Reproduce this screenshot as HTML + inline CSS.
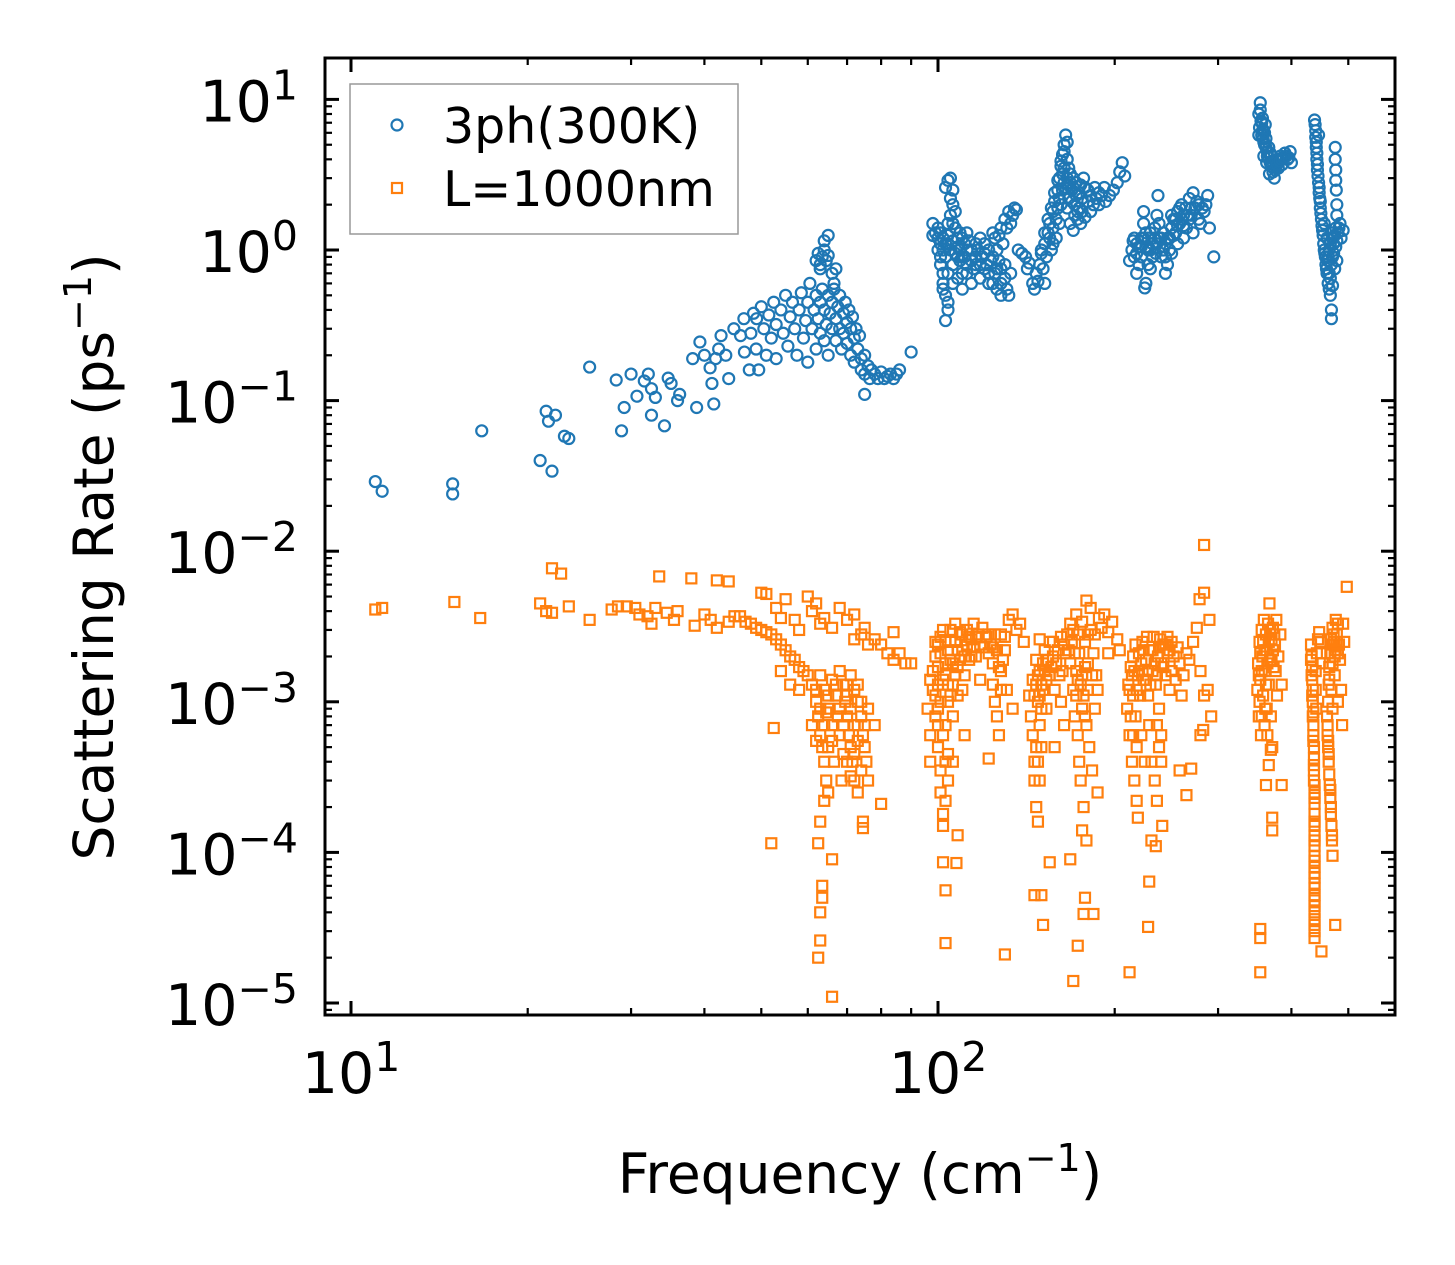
<!DOCTYPE html>
<html><head><meta charset="utf-8"><style>
html,body{margin:0;padding:0;background:#fff;}
svg{display:block;font-family:"DejaVu Sans","Liberation Sans",sans-serif;}
</style></head><body>
<svg id="chart" width="1455" height="1265" viewBox="0 0 1455 1265" xmlns="http://www.w3.org/2000/svg">
<rect x="0" y="0" width="1455" height="1265" fill="#fff"/>
<g id="marks"></g>
<g id="axes"></g>
<rect x="325" y="58" width="1070" height="957" fill="none" stroke="#000" stroke-width="3"/>
<g>
<rect x="350" y="84" width="388" height="150" fill="#fff" fill-opacity="0.8" stroke="#999" stroke-width="1.5"/>
<circle cx="397" cy="125" r="5.5" fill="none" stroke="#1f77b4" stroke-width="2.2"/>
<text x="443" y="143" font-size="49" fill="#000">3ph(300K)</text>
<rect x="392" y="183" width="10" height="10" fill="none" stroke="#ff7f0e" stroke-width="2.2"/>
<text x="443" y="206" font-size="49" fill="#000">L=1000nm</text>
</g>
<text x="860" y="1193" font-size="55" text-anchor="middle" fill="#000">Frequency (cm<tspan font-size="38" dy="-22">−1</tspan><tspan dy="22">)</tspan></text>
<text transform="translate(113,557) rotate(-90)" font-size="55" text-anchor="middle" fill="#000">Scattering Rate (ps<tspan font-size="38" dy="-22">−1</tspan><tspan dy="22">)</tspan></text>
</svg>
<script>
const xMajorTicks = [10, 100];
const xMinorTicks = [20,30,40,50,60,70,80,90,200,300,400,500];
const yMajorExps = [1,0,-1,-2,-3,-4,-5];
const xTickLabelExps = ["1","2"];
const yMinorMult = [2,3,4,5,6,7,8,9];

const blue3ph = [
[11.0,0.029],[11.3,0.025],[14.9,0.028],[14.9,0.024],[16.7,0.063],[21.0,0.040],[21.5,0.085],[21.7,0.073],[22.0,0.034],[22.3,0.080],[23.1,0.058],[23.5,0.056],[25.5,0.167],[28.3,0.137],[28.9,0.063],[29.2,0.090],[30.0,0.150],[30.7,0.107],[31.6,0.135],[32.1,0.150],[32.5,0.120],[32.5,0.080],[33.0,0.105],[34.2,0.068],[34.7,0.141],[35.1,0.130],[36.0,0.100],[36.3,0.110],[38.2,0.19],[38.8,0.09],[39.3,0.245],[40.0,0.20],[40.9,0.165],[41.2,0.13],[41.5,0.095],[41.8,0.19],[42.3,0.22],[42.7,0.27],[43.5,0.20],[44.0,0.14],[44.9,0.30],[46.1,0.27],[46.8,0.21],[46.7,0.35],[47.7,0.16],[49.1,0.35],[49.5,0.16],
[48,0.28],[48.5,0.38],[49,0.22],[50,0.42],[50.5,0.3],[51,0.2],[51.5,0.37],[52,0.26],[52.5,0.45],[53,0.32],[53,0.19],[54,0.4],[54.5,0.28],[55,0.5],[55.5,0.23],[56,0.36],[56.5,0.45],[57,0.3],[57.5,0.2],[58,0.4],[58.5,0.52],[59,0.26],[59.5,0.34],[60,0.45],[60,0.18],[60.5,0.6],[61,0.3],[61.5,0.4],[62,0.22],[62,0.5],
[62.5,0.35],[63,0.45],[63,0.28],[63.5,0.55],[64,0.4],[64,0.25],[64.5,0.32],[65,0.5],[65,0.2],[65.5,0.38],[66,0.3],[66,0.45],[66.5,0.55],[67,0.35],[67,0.25],[67.5,0.42],[68,0.3],[68,0.5],[68.5,0.22],[69,0.38],[69,0.28],[69.5,0.45],[70,0.33],[70,0.24],[70.5,0.4],[71,0.3],[71,0.2],[71.5,0.36],[72,0.26],[72,0.18],[72.5,0.3],[73,0.22],[73.5,0.27],[74,0.19],[74,0.16],[75,0.2],[75,0.15],[76,0.17],[76.5,0.14],[77,0.16],[78,0.15],[79,0.14],[80,0.155],[81,0.14],[82,0.145],[83,0.15],[84,0.14],[85,0.15],[86,0.16],[75,0.11],[90,0.21],
[62,0.85],[62.5,0.95],[63,0.8],[63.5,0.9],[64,1.0],[64.5,0.85],[65,0.92],[64,1.15],[65,1.25],[63,0.75],[66,0.7],[66.5,0.6],[67,0.75],
[99,1.3],[98,1.5],[100,1.0],[101,0.8],[102,0.6],[103,0.5],[104,0.4],[103,0.34],[100,1.2],[104,2.9],[105,3.0],[106,2.5],[106,2.0],[105,1.7],[107,1.4],[108,1.2],[109,1.0],[110,0.9],[112,1.0],[114,0.85],[116,0.9],[118,0.8],[120,0.75],[122,0.7],[124,0.6],[126,0.55],[128,0.5],[122,1.0],[125,1.2],[128,1.4],[130,1.6],[132,1.8],[134,1.7],[133,0.7],[130,0.8],[127,0.85],[102,0.7],[104,1.1],[106,0.8],[108,0.65],[110,0.55],[112,0.7],[114,0.6],[107,1.8],[104,1.5],[109,1.3],[111,1.1],[116,1.1],[118,1.2],[120,0.95],[124,0.9],[126,1.0],[128,0.75],[130,0.65],[131,0.55],[132,0.5],[98,1.25],[101,1.1],[103,0.9],[102,0.55],[104,0.45],[137,1.0],[139,0.95],[141,0.9],[143,0.82],[142,0.75],
[100,1.4],[101,1.3],[102,1.2],[103,1.1],[104,1.25],[105,1.0],[106,1.15],[107,0.95],[108,1.05],[109,0.85],[110,1.2],[111,0.9],[112,0.8],[113,1.15],[114,1.0],[115,0.75],[116,0.8],[117,1.0],[118,0.65],[119,0.9],[120,1.1],[121,0.8],[122,0.6],[123,0.85],[124,1.3],[125,0.7],[126,0.75],[127,1.25],[128,0.6],[129,1.1],[131,1.4],[133,1.5],[135,1.9],[136,1.85],[105,2.2],[106,1.5],[103,2.6],[101,0.9],[102,1.0],[104,0.7],[106,0.6],[108,0.9],[110,0.7],[112,1.3],
[145,0.6],[147,0.7],[149,0.8],[150,0.95],[152,1.1],[154,1.3],[155,1.5],[157,1.8],[158,2.1],[160,2.5],[161,3.0],[162,3.6],[163,4.3],[164,5.0],[165,5.8],[166,5.2],[163,3.2],[165,2.6],[167,2.2],[169,2.5],[170,3.0],[172,2.3],[174,1.9],[176,2.2],[178,2.6],[180,2.1],[182,1.8],[184,2.0],[186,2.2],[188,2.0],[190,2.3],[193,2.1],[196,2.3],[199,2.5],[202,2.8],[204,3.3],[206,3.8],[208,3.1],[168,1.5],[171,1.7],[166,1.9],[160,1.9],[157,1.4],[153,0.9],[151,0.75],[148,0.62],[146,0.55],[162,2.0],[164,2.8],[167,3.5],[168,2.8],[175,1.5],[178,1.65],[170,1.35],[173,1.8],[177,3.0],[175,2.7],[152,0.6],[156,1.0],[159,1.2],[161,1.5],
[150,1.0],[152,1.3],[154,1.6],[156,1.9],[158,2.4],[160,2.9],[162,3.9],[164,4.5],[166,4.0],[168,3.2],[170,2.6],[172,2.8],[174,2.4],[176,1.8],[180,2.5],[182,2.3],[185,2.6],[188,2.4],[192,2.6],[164,3.5],[166,3.0],[167,2.7],[169,2.1],[171,2.0],[173,1.6],[155,1.2],[157,1.1],[159,1.6],[161,2.2],[163,2.5],
[212,0.85],[214,1.0],[216,0.9],[218,1.1],[220,0.8],[222,1.2],[224,1.5],[224,1.8],[226,1.3],[226,0.6],[225,0.56],[228,1.0],[230,0.75],[232,1.1],[234,1.4],[236,1.7],[237,2.3],[238,1.2],[240,0.9],[242,1.0],[244,0.7],[246,0.8],[248,1.2],[250,1.4],[252,1.6],[254,1.3],[256,1.8],[258,1.5],[260,2.0],[262,1.7],[265,1.4],[268,2.2],[270,1.9],[272,2.4],[276,2.1],[280,1.5],[284,1.8],[288,2.3],[290,1.4],[295,0.9],[218,0.7],[222,0.9],[230,1.3],[244,1.1],[250,0.95],[256,1.1],[262,1.2],[272,1.3],[278,1.6],[215,1.15],[228,0.8],[235,0.95],
[216,1.2],[218,0.95],[220,1.05],[222,1.05],[224,1.2],[226,1.05],[228,1.2],[230,1.0],[232,0.9],[234,1.2],[236,1.1],[238,1.5],[240,1.2],[242,1.3],[244,0.9],[246,1.2],[248,1.0],[250,1.7],[252,1.25],[254,1.6],[256,1.45],[258,1.9],[260,1.6],[262,1.45],[264,1.9],[266,1.7],[268,1.6],[270,1.7],[274,1.9],[278,2.0],[282,1.9],[286,2.0],
[352,8],[354,9.5],[353,6.5],[355,7.2],[356,5.8],[358,6.3],[360,5.0],[362,5.5],[364,4.5],[366,4.8],[368,3.8],[370,4.2],[372,3.3],[374,3.0],[376,3.6],[378,4.0],[380,3.5],[383,4.2],[386,3.7],[390,4.4],[394,4.0],[398,4.5],[400,3.8],[357,7.5],[359,4.2],[363,3.8],[367,3.2],[352,5.8],[361,6.8],
[354,8.5],[356,7.0],[357,6.2],[358,5.5],[359,5.2],[360,6.0],[362,4.8],[364,4.2],[366,4.1],[368,4.4],[370,3.6],[372,3.8],[375,3.4],[378,3.7],[382,3.9],[385,4.0],[388,4.1],[392,4.2],[396,4.1],
[438,7.3],[440,6.2],[441,5.2],[442,4.4],[443,3.7],[444,3.1],[446,2.6],[447,2.2],[448,1.9],[450,1.6],[452,1.35],[454,1.1],[456,0.95],[458,0.8],[460,0.7],[462,0.6],[464,0.55],[466,0.5],[468,0.4],[468,0.35],[460,1.2],[464,1.0],[468,1.3],[472,1.1],[476,1.4],[480,1.3],[484,1.5],[470,0.9],[474,0.75],[478,0.85],[475,4.8],[475,4.0],[476,3.4],[476,2.9],[477,2.5],[478,2.0],[478,1.7],[466,0.65],[470,0.58],[455,1.5],[461,0.85],[490,1.35],[486,1.2],[445,5.8],
[439,6.8],[440,5.6],[441,4.8],[442,4.0],[443,3.4],[445,2.8],[446,2.4],[448,2.1],[449,1.75],[451,1.45],[453,1.25],[455,1.0],[457,0.9],[459,0.75],[462,0.9],[466,1.1],[470,1.2],[474,1.25],[478,1.15],[482,1.4],[468,0.8],[472,0.95],[476,1.05],[464,0.7]
];

const orangeL1000 = [
[11,0.0041],[11.3,0.0042],[15,0.0046],[16.6,0.0036],[21,0.0045],[21.5,0.004],[22,0.0039],[22,0.0077],[22.8,0.0071],[23.5,0.0043],[25.5,0.0035],[27.8,0.0041],[28.5,0.0043],[29.5,0.0043],[30.5,0.0042],[31,0.0038],[32,0.0037],[32.5,0.0033],[33,0.0042],[33.5,0.0068],[34.5,0.0039],[35.5,0.0035],[36,0.004],[38,0.0066],[38.5,0.0032],[40,0.0038],[41,0.0035],[42,0.0064],[42,0.0031],[44,0.0063],[44,0.0034],[45,0.0037],
[46,0.0037],[47,0.0034],[48,0.0033],[49,0.0031],[50,0.003],[51,0.0029],[52,0.0028],[53,0.0026],[54,0.0024],[55,0.0022],[56,0.002],[57,0.0019],[58,0.0017],[59,0.0016],[60,0.0015],[50,0.0053],[51,0.0052],[53,0.0042],[54,0.0036],[55,0.0048],[57,0.0035],[58,0.003],[60,0.005],[61,0.004],[62,0.0045],[63,0.0033],[64,0.0036],[66,0.0031],[68,0.0042],[70,0.0035],[72,0.0026],[74,0.0028],[76,0.0024],[78,0.0026],[80,0.0024],[82,0.0021],[84,0.0019],[86,0.0021],[88,0.0018],[90,0.0018],[72,0.0038],[75,0.0031],[84,0.0029],[54,0.0016],[56,0.0013],[58,0.0012],[52.5,0.00067],
[61,0.0013],[62,0.001],[62.5,0.0008],[63,0.0006],[63.5,0.0005],[64,0.0004],[64.5,0.0003],[65,0.00025],[64,0.0012],[65,0.0009],[66,0.0007],[66,0.0014],[67,0.0011],[67.5,0.0008],[68,0.0006],[68,0.0016],[69,0.0013],[69.5,0.001],[70,0.0008],[70.5,0.0006],[71,0.0005],[71.5,0.0004],[72,0.0003],[73,0.00025],[71,0.0015],[72,0.0012],[73,0.001],[74,0.0008],[74.5,0.0006],[75,0.0005],[75.5,0.0004],[76,0.0003],[63,0.0015],[61,0.0007],[62,0.00055],[66.5,0.0004],[68.5,0.0003],[69,0.00045],[64.5,0.00085],[70,0.0011],[73,0.0007],[76,0.0009],[78,0.0007],
[62,0.0012],[63,0.0009],[65,0.0011],[66,0.00055],[67,0.0013],[68,0.0009],[69,0.0007],[70,0.0013],[71,0.0009],[72,0.0007],[73,0.0013],[74,0.001],[75,0.0007],[64,0.0007],[65,0.0005],[70,0.0004],[71,0.00032],[72,0.00045],[74,0.00035],[73,0.00055],
[63,1.6e-4],[62.5,1.15e-4],[52,1.15e-4],[66,9e-5],[63.5,6e-5],[63.5,5e-5],[63,4e-5],[63,2.6e-5],[62.5,2e-5],[66,1.1e-5],[80,2.1e-4],[74.5,1.6e-4],[74.5,1.45e-4],[64,0.00022],
[96,0.0009],[97,0.0006],[97,0.0004],[98,0.0012],[98,0.0016],[99,0.002],[100,0.0024],[101,0.0027],[102,0.003],[99,0.0008],[100,0.0005],[101,0.00035],[101,0.00025],[102,0.00018],[102,0.00015],[103,0.0015],[103,0.0007],[104,0.001],[104,0.00045],[105,0.0019],[106,0.0013],[106,0.0008],[107,0.0025],[108,0.0017],[108,0.0011],[109,0.0029],[110,0.0022],[111,0.0015],[112,0.003],[114,0.0026],[115,0.0033],[117,0.0028],[119,0.0031],[121,0.0027],[123,0.0024],[125,0.0028],[124,0.0018],[124,0.0013],[125,0.001],[126,0.0008],[127,0.0006],[128,0.0016],[130,0.0022],[132,0.0035],[134,0.0038],[136,0.003],[138,0.0033],[140,0.0025],[128,0.0028],[131,0.0012],[134,0.0009],[122,0.0021],[113,0.0019],[116,0.002],[110,0.0012],[103,0.0025],[105,0.003],[107,0.0033],[100,0.0017],[104,0.0022],[97,0.0014],[106,0.0004],[104,0.0003],[103,0.00022],[102,8.6e-5],[107.5,8.5e-5],[103,5.6e-5],[103,2.5e-5],[130,2.1e-5],[108,1.3e-4],[122,4.2e-4],[111,0.0006],[118,0.0014],
[99,0.0025],[100,0.0013],[101,0.001],[101,0.0021],[102,0.0014],[103,0.0018],[104,0.0013],[105,0.0025],[105,0.0011],[106,0.0018],[107,0.0015],[108,0.0022],[109,0.0019],[110,0.0028],[111,0.002],[112,0.0024],[113,0.0027],[114,0.002],[115,0.0023],[116,0.0027],[118,0.0024],[120,0.0023],[122,0.0028],[124,0.0023],[126,0.0022],[127,0.0017],[128,0.0012],[129,0.0019],[130,0.0027],[100,0.0009],[99,0.0011],[102,0.0006],[103,0.0004],[100,0.0007],
[143,0.0011],[144,0.0008],[145,0.0006],[145,0.0014],[146,0.0004],[146,0.0003],[147,0.0019],[147,0.0002],[148,0.0015],[148,0.00016],[149,0.0011],[149,0.0007],[150,0.0005],[150,0.0013],[151,0.0018],[152,0.0022],[153,0.0009],[153,0.0014],[155,0.0025],[156,0.0017],[157,0.002],[158,0.0012],[160,0.0022],[162,0.0027],[163,0.0016],[165,0.0021],[166,0.0028],[168,0.0033],[170,0.003],[170,0.0012],[171,0.0008],[172,0.0038],[172,0.0016],[173,0.0006],[174,0.0021],[174,0.0004],[175,0.0013],[175,0.0003],[176,0.0034],[176,0.0009],[177,0.0002],[178,0.0025],[178,0.0017],[179,0.0047],[179,0.0007],[180,0.0012],[181,0.0005],[182,0.0042],[182,0.003],[183,0.00035],[184,0.0021],[185,0.0009],[186,0.0015],[187,0.00025],[188,0.0036],[190,0.0031],[192,0.0038],[195,0.0029],[198,0.0034],[202,0.0026],[204,0.0022],[195,0.0021],[176,1.4e-4],[179,1.2e-4],[155,8.6e-5],[168,9e-5],[146,5.2e-5],[150,5.2e-5],[178,5e-5],[151,3.3e-5],[177,3.9e-5],[184,3.9e-5],[173,2.4e-5],[170,1.4e-5],[158,0.0005],[162,0.001],[168,0.0018],[164,0.0007],[149,0.0026],
[146,0.0011],[147,0.0013],[148,0.001],[149,0.0016],[150,0.0009],[151,0.0012],[152,0.0016],[154,0.0019],[155,0.0015],[157,0.0025],[159,0.0018],[161,0.0015],[164,0.0024],[167,0.0022],[169,0.0025],[171,0.0021],[172,0.0011],[173,0.0014],[174,0.0028],[176,0.0015],[177,0.0011],[178,0.0008],[180,0.0018],[180,0.0028],[183,0.0015],[185,0.0028],[187,0.0012],[148,0.0004],[147,0.0005],[149,0.0003],
[210,0.0009],[211,0.0013],[212,0.0006],[213,0.0017],[214,0.0004],[215,0.002],[215,0.0011],[216,0.0003],[217,0.0024],[217,0.0008],[218,0.00022],[219,0.0015],[219,0.00017],[220,0.0021],[221,0.0011],[222,0.0006],[223,0.0025],[224,0.0014],[225,0.0004],[226,0.0019],[227,0.0027],[228,0.0011],[229,0.0007],[230,0.0022],[231,0.0004],[232,0.0016],[233,0.0027],[234,0.0003],[235,0.0013],[236,0.00022],[237,0.002],[238,0.0009],[239,0.0026],[240,0.0006],[241,0.00015],[242,0.0017],[244,0.0024],[246,0.0021],[248,0.0012],[250,0.0016],[252,0.002],[254,0.0014],[256,0.0023],[258,0.0018],[260,0.0011],[262,0.0015],[265,0.0021],[268,0.0019],[272,0.0025],[276,0.0031],[280,0.0016],[284,0.0011],[288,0.0012],[290,0.0035],[292,0.0008],[284,0.011],[284,0.0053],[279,0.0048],[265,2.4e-4],[270,3.6e-4],[258,3.5e-4],[229,6.4e-5],[228,3.2e-5],[212,1.6e-5],[231,1.2e-4],[235,1.1e-4],[283,0.00065],[280,0.0006],
[212,0.0012],[214,0.0015],[216,0.0016],[218,0.0012],[220,0.0016],[222,0.0018],[224,0.0022],[226,0.0014],[228,0.0016],[230,0.0013],[232,0.0022],[234,0.0018],[236,0.0015],[238,0.0023],[240,0.0018],[242,0.0024],[244,0.0015],[246,0.0027],[248,0.0022],[250,0.0025],[213,0.0008],[215,0.0006],[218,0.0005],[236,0.0007],[238,0.0005],[240,0.0004],
[350,0.0012],[351,0.0018],[352,0.0008],[353,0.0025],[354,0.0014],[355,0.0006],[356,0.003],[357,0.002],[358,0.0011],[359,0.0035],[360,0.0016],[361,0.0009],[362,0.0028],[363,0.0022],[364,0.0006],[365,0.0033],[366,0.0013],[367,0.0045],[368,0.0019],[369,0.0008],[370,0.0026],[371,0.0005],[372,0.0031],[373,0.0017],[375,0.0024],[377,0.0035],[380,0.002],[383,0.0028],[385,0.0013],[378,0.0011],[362,2.8e-4],[385,2.8e-4],[371,1.7e-4],[371,1.4e-4],[354,3.1e-5],[354,2.7e-5],[354,1.6e-5],[366,0.00038],[369,0.00048],
[352,0.0015],[354,0.0021],[356,0.0016],[358,0.0025],[360,0.0022],[362,0.0013],[364,0.0018],[366,0.0025],[368,0.003],[370,0.0019],[372,0.0022],[374,0.0028],[376,0.0016],[353,0.001],[356,0.0008],[360,0.0007],[363,0.0009],
[432,0.0024],[433,0.002],[434,0.0017],[434,0.0014],[435,0.0012],[435,0.001],[436,0.00085],[436,0.0007],[436,0.0006],[437,0.0005],[437,0.00042],[437,0.00035],[437,0.0003],[438,0.00025],[438,0.00021],[438,0.00018],[438,0.00015],[438,0.00013],[438,0.00011],[438,9.5e-5],[438,8e-5],[438,6.8e-5],[438,5.8e-5],[438,4.8e-5],[438,4e-5],[438,3.3e-5],[438,2.7e-5],[440,0.0012],[441,0.0009],[440,0.0016],[442,0.0021],[444,0.0026],[446,0.0029],[448,0.0025],[450,0.0021],[452,0.0018],[450,2.2e-5],
[432,0.0019],[433,0.0015],[434,0.0011],[435,0.0008],[436,0.00055],[437,0.00038],[438,0.00028],[438,0.00023],[438,0.00016],[438,0.00012],[438,8.8e-5],[438,7.3e-5],[438,6.2e-5],[438,5.2e-5],[438,4.4e-5],[438,3.6e-5],[438,3e-5],
[460,0.0008],[461,0.0006],[462,0.001],[462,0.0005],[463,0.0004],[463,0.0013],[464,0.00033],[464,0.0017],[465,0.00028],[466,0.0021],[466,0.00023],[467,0.00018],[467,0.0026],[468,0.00015],[468,0.0012],[469,0.00012],[470,0.0031],[470,9.5e-5],[472,0.0025],[474,0.002],[476,0.0035],[478,0.0028],[480,0.0033],[482,0.0024],[484,0.0019],[486,0.0012],[488,0.0007],[490,0.0033],[492,0.0025],[497,0.0058],[475,3.3e-5],[470,0.0009],[474,0.0015],[480,0.001],
[461,0.0007],[462,0.00055],[463,0.00045],[464,0.0014],[465,0.0018],[466,0.00026],[467,0.0002],[468,0.0024],[469,0.00013],[470,0.0018],[472,0.0028],[474,0.0024],[476,0.0022],[478,0.0024],[480,0.0021]
];

const NS = "http://www.w3.org/2000/svg";
const X0 = 351, XDEC = 587, Y0 = 250, YDEC = 150.6;
const L = 325, R = 1395, T = 58, B = 1015;
function xs(f){ return X0 + (Math.log10(f) - 1) * XDEC; }
function ys(r){ return Y0 - Math.log10(r) * YDEC; }

const marks = document.getElementById('marks');
const axes = document.getElementById('axes');

const gOr = document.createElementNS(NS,'g');


marks.appendChild(gOr);
orangeL1000.forEach(function(p){
  const s = document.createElementNS(NS,'rect');
  s.setAttribute('x', xs(p[0]) - 5);
  s.setAttribute('y', ys(p[1]) - 5);
  s.setAttribute('width', 10); s.setAttribute('height', 10);
  s.setAttribute('fill','none'); s.setAttribute('stroke','#ff7f0e'); s.setAttribute('stroke-width','2.2');
  
  
  gOr.appendChild(s);
});

const gBl = document.createElementNS(NS,'g');


marks.appendChild(gBl);
blue3ph.forEach(function(p){
  const c = document.createElementNS(NS,'circle');
  c.setAttribute('cx', xs(p[0]));
  c.setAttribute('cy', ys(p[1]));
  c.setAttribute('r', 5.5);
  c.setAttribute('fill','none'); c.setAttribute('stroke','#1f77b4'); c.setAttribute('stroke-width','2.2');
  
  
  gBl.appendChild(c);
});

function line(x1,y1,x2,y2,w,name){
  const l = document.createElementNS(NS,'line');
  l.setAttribute('x1',x1); l.setAttribute('y1',y1); l.setAttribute('x2',x2); l.setAttribute('y2',y2);
  l.setAttribute('stroke','#000'); l.setAttribute('stroke-width',w);
  
  
  axes.appendChild(l);
}
xMajorTicks.forEach(function(v,i){
  const x = xs(v);
  line(x,B,x,B-14,3,'x-major-tick');
  line(x,T,x,T+14,3,'x-major-tick-top');
  const t = document.createElementNS(NS,'text');
  t.setAttribute('x', x); t.setAttribute('y', 1093);
  t.setAttribute('font-size','57'); t.setAttribute('text-anchor','middle');
  
  
  t.innerHTML = '10<tspan font-size="41" dy="-22">' + xTickLabelExps[i] + '</tspan>';
  axes.appendChild(t);
});
xMinorTicks.forEach(function(v){
  const x = xs(v);
  if (x < L || x > R) return;
  line(x,B,x,B-7,2.2,'x-minor-tick');
  line(x,T,x,T+7,2.2,'x-minor-tick-top');
});
yMajorExps.forEach(function(e){
  const y = ys(Math.pow(10,e));
  line(L,y,L+14,y,3,'y-major-tick');
  line(R,y,R-14,y,3,'y-major-tick-right');
  const t = document.createElementNS(NS,'text');
  t.setAttribute('x', 298); t.setAttribute('y', y + 22);
  t.setAttribute('font-size','57'); t.setAttribute('text-anchor','end');
  
  
  const ex = e < 0 ? '−' + (-e) : String(e);
  t.innerHTML = '10<tspan font-size="41" dy="-22">' + ex + '</tspan>';
  axes.appendChild(t);
  yMinorMult.forEach(function(m){
    const yy = ys(m * Math.pow(10,e));
    if (yy < T || yy > B) return;
    line(L,yy,L+7,yy,2.2,'y-minor-tick');
    line(R,yy,R-7,yy,2.2,'y-minor-tick-right');
  });
  const yy2 = ys(9 * Math.pow(10,-6));
  if (e === -5 && yy2 <= B) { line(L,yy2,L+7,yy2,2.2,'y-minor-tick'); line(R,yy2,R-7,yy2,2.2,'y-minor-tick-right'); }
});
</script>
</body></html>
